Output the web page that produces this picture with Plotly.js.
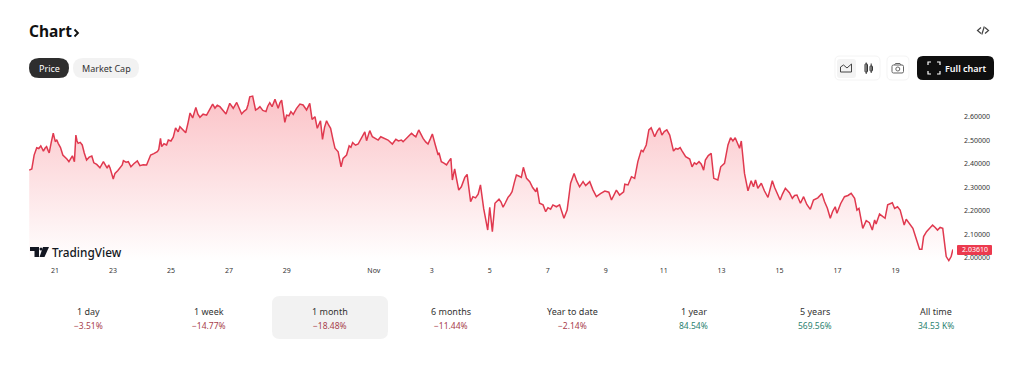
<!DOCTYPE html>
<html>
<head>
<meta charset="utf-8">
<script src="https://cdn.plot.ly/plotly-3.0.1.min.js"></script>
<style>html,body{margin:0;padding:0;background:#fff;overflow:hidden}#chart{width:1024px;height:371px}</style>
</head>
<body>
<div id="chart"></div>
<script>
// Day numbers counted from 1 Oct (32 = 1 Nov)
const days = [
20.11,20.20,20.28,20.33,20.37,20.44,20.51,20.56,20.60,20.66,
20.71,20.76,20.80,20.87,20.94,21.01,21.06,21.11,21.19,21.27,
21.34,21.41,21.48,21.54,21.60,21.67,21.72,21.76,21.80,21.87,
21.94,22.01,22.09,22.18,22.27,22.34,22.44,22.55,22.61,22.67,
22.74,22.80,22.85,22.90,23.01,23.07,23.17,23.28,23.32,23.36,
23.45,23.53,23.62,23.72,23.84,23.93,24.04,24.16,24.23,24.30,
24.41,24.53,24.58,24.64,24.68,24.76,24.85,24.91,25.00,25.08,
25.16,25.25,25.31,25.41,25.51,25.59,25.66,25.75,25.86,25.93,
26.00,26.11,26.23,26.33,26.44,26.52,26.60,26.69,26.80,26.90,
27.03,27.15,27.27,27.35,27.44,27.52,27.61,27.66,27.72,27.82,
27.92,28.00,28.07,28.17,28.28,28.34,28.41,28.49,28.59,28.70,
28.76,28.82,28.93,28.99,29.07,29.14,29.22,29.33,29.45,29.56,
29.68,29.79,29.87,29.97,30.05,30.16,30.23,30.30,30.37,30.44,
30.51,30.59,30.66,30.77,30.87,30.94,31.06,31.15,31.21,31.27,
31.37,31.46,31.57,31.69,31.75,31.86,31.95,32.05,32.15,32.24,
32.36,32.49,32.64,32.70,32.76,32.85,32.95,33.01,33.15,33.30,
33.38,33.45,33.55,33.62,33.70,33.79,33.87,33.95,34.02,34.12,
34.22,34.25,34.33,34.42,34.51,34.58,34.66,34.71,34.79,34.86,
34.93,35.02,35.14,35.22,35.28,35.34,35.42,35.51,35.60,35.68,
35.79,35.86,35.93,36.00,36.09,36.18,36.25,36.32,36.39,36.46,
36.54,36.63,36.70,36.77,36.85,36.92,37.00,37.09,37.16,37.27,
37.38,37.48,37.59,37.63,37.72,37.84,37.93,38.01,38.10,38.18,
38.30,38.41,38.56,38.67,38.73,38.79,38.91,39.00,39.10,39.22,
39.31,39.45,39.56,39.68,39.82,39.97,40.11,40.20,40.37,40.48,
40.62,40.66,40.77,40.89,41.00,41.11,41.23,41.29,41.40,41.49,
41.57,41.69,41.78,41.86,41.94,42.02,42.11,42.21,42.34,42.42,
42.49,42.57,42.64,42.76,42.90,42.98,43.06,43.13,43.22,43.30,
43.38,43.44,43.54,43.64,43.73,43.87,43.97,44.10,44.22,44.31,
44.39,44.47,44.62,44.68,44.79,44.91,45.02,45.10,45.17,45.25,
45.37,45.48,45.60,45.75,45.83,45.91,46.02,46.10,46.20,46.34,
46.44,46.52,46.60,46.72,46.83,46.94,47.06,47.17,47.32,47.46,
47.55,47.65,47.75,47.83,47.92,47.98,48.11,48.24,48.36,48.47,
48.59,48.67,48.74,48.87,48.99,49.10,49.20,49.28,49.33,49.45,
49.55,49.64,49.73,49.89,49.97,50.07,50.16,50.30,50.37,50.48,
50.60,50.72,50.83,50.91,50.97,51.07,51.17,51.28,51.37,51.45,
51.54,51.63,51.75,51.84,51.92,51.98];
const prices = [
2.374,2.379,2.438,2.458,2.469,2.466,2.477,2.465,2.455,2.468,
2.474,2.458,2.447,2.492,2.531,2.495,2.503,2.488,2.470,2.438,
2.431,2.421,2.410,2.424,2.435,2.410,2.523,2.498,2.488,2.492,
2.481,2.447,2.417,2.429,2.434,2.405,2.398,2.384,2.397,2.410,
2.395,2.382,2.396,2.383,2.336,2.360,2.372,2.388,2.396,2.414,
2.408,2.410,2.388,2.401,2.413,2.393,2.397,2.396,2.422,2.438,
2.444,2.452,2.462,2.509,2.474,2.486,2.481,2.502,2.498,2.514,
2.554,2.537,2.559,2.545,2.533,2.575,2.617,2.596,2.641,2.612,
2.599,2.612,2.608,2.630,2.655,2.638,2.650,2.644,2.630,2.613,
2.658,2.637,2.662,2.636,2.613,2.624,2.633,2.652,2.686,2.689,
2.630,2.636,2.644,2.628,2.623,2.646,2.661,2.644,2.675,2.637,
2.660,2.672,2.577,2.608,2.605,2.623,2.611,2.636,2.655,2.651,
2.630,2.658,2.590,2.601,2.552,2.584,2.505,2.556,2.584,2.566,
2.552,2.505,2.467,2.452,2.388,2.424,2.438,2.477,2.471,2.491,
2.480,2.485,2.510,2.537,2.499,2.542,2.516,2.510,2.502,2.516,
2.508,2.502,2.485,2.497,2.505,2.498,2.502,2.495,2.514,2.531,
2.522,2.516,2.545,2.526,2.509,2.494,2.485,2.507,2.528,2.482,
2.438,2.448,2.410,2.404,2.396,2.410,2.424,2.332,2.379,2.333,
2.289,2.303,2.343,2.356,2.298,2.240,2.261,2.256,2.272,2.311,
2.211,2.168,2.119,2.216,2.112,2.233,2.241,2.250,2.238,2.216,
2.235,2.258,2.268,2.282,2.322,2.353,2.349,2.343,2.386,2.339,
2.325,2.300,2.282,2.299,2.233,2.226,2.197,2.214,2.208,2.226,
2.218,2.226,2.169,2.204,2.260,2.318,2.360,2.328,2.303,2.325,
2.308,2.325,2.290,2.261,2.274,2.285,2.280,2.247,2.289,2.268,
2.282,2.314,2.311,2.346,2.339,2.410,2.460,2.452,2.481,2.545,
2.554,2.516,2.540,2.554,2.523,2.538,2.545,2.523,2.455,2.466,
2.463,2.470,2.455,2.431,2.421,2.388,2.405,2.399,2.410,2.399,
2.374,2.417,2.436,2.445,2.339,2.332,2.388,2.403,2.481,2.512,
2.498,2.512,2.467,2.498,2.360,2.286,2.329,2.303,2.332,2.297,
2.318,2.285,2.258,2.329,2.300,2.275,2.247,2.272,2.297,2.278,
2.254,2.266,2.268,2.233,2.261,2.228,2.207,2.247,2.256,2.275,
2.240,2.212,2.169,2.198,2.218,2.190,2.232,2.261,2.266,2.275,
2.254,2.204,2.211,2.126,2.159,2.150,2.119,2.162,2.145,2.187,
2.178,2.169,2.226,2.235,2.211,2.218,2.204,2.140,2.165,2.145,
2.126,2.080,2.037,2.037,2.091,2.112,2.126,2.140,2.130,2.119,
2.130,2.126,2.006,1.989,2.006,2.0361];
const xTickVals = [21,23,25,27,29,32,34,36,38,40,42,44,46,48,50];
const xTickText = ['21','23','25','27','29','Nov','3','5','7','9','11','13','15','17','19'];
const yTickVals = [2.0,2.1,2.2,2.3,2.4,2.5,2.6];
const periods = ['1 day','1 week','1 month','6 months','Year to date','1 year','5 years','All time'];
const changes = ['−3.51%','−14.77%','−18.48%','−11.44%','−2.14%','84.54%','569.56%','34.53 K%'];
const lastPrice = '2.03610';

// Plot frame in page pixels
const W=1024,H=371,L=29,R=953,T=95,B=262;
const px=x=>(x-L)/(R-L), py=y=>(B-y)/(B-T);
const FONT='"Noto Sans", sans-serif';
const RED='#a8404c', GREEN='#2b7f70';

const shapes=[], notes=[];
function poly(points,opt){
  const d=points.map((p,i)=>(i?'L':'M')+px(p[0]).toFixed(5)+','+py(p[1]).toFixed(5)).join(' ')+(opt.close?' Z':'');
  shapes.push({type:'path',xref:'paper',yref:'paper',path:d,fillcolor:opt.fill||'rgba(0,0,0,0)',
    line:{color:opt.line||'rgba(0,0,0,0)',width:opt.width||0},layer:'above'});
}
function rr(x0,y0,x1,y1,r,fill,line){
  const f=(x,y)=>px(x).toFixed(5)+','+py(y).toFixed(5);
  const d='M'+f(x0+r,y0)+' L'+f(x1-r,y0)+' Q'+f(x1,y0)+' '+f(x1,y0+r)+' L'+f(x1,y1-r)+' Q'+f(x1,y1)+' '+f(x1-r,y1)+
    ' L'+f(x0+r,y1)+' Q'+f(x0,y1)+' '+f(x0,y1-r)+' L'+f(x0,y0+r)+' Q'+f(x0,y0)+' '+f(x0+r,y0)+' Z';
  shapes.push({type:'path',xref:'paper',yref:'paper',path:d,fillcolor:fill,line:{color:line||'rgba(0,0,0,0)',width:line?1:0},layer:'above'});
}
function text(x,y,s,size,color,anchor,weight){
  notes.push({xref:'paper',yref:'paper',x:px(x),y:py(y),text:s,showarrow:false,xanchor:anchor||'center',yanchor:'middle',
    font:{family:FONT,size:size,color:color,weight:weight||400},borderpad:0,borderwidth:0});
}

// header
text(29,31,'Chart',15.5,'#111','left',700);
poly([[74.5,29.5],[78,33],[74.5,36.5]],{line:'#111',width:1.8});
rr(29,58,69,78,10,'#2e2e2e'); text(49,68,'Price',9,'#fff');
rr(73,58,139,78,10,'#f2f2f2'); text(106,68,'Market Cap',9,'#333');
poly([[981,27.5],[977.5,30.5],[981,33.5]],{line:'#444',width:1.2});
poly([[985,27.5],[988.5,30.5],[985,33.5]],{line:'#444',width:1.2});
poly([[984.3,26.5],[981.8,34.5]],{line:'#444',width:1.2});

// toolbar
rr(835,56,880,80,5,'#fff','#f4f4f4');
rr(837,59,856,78,3,'#f3f3f3');
poly([[840.5,72],[840.5,67],[843.5,65],[847,68],[851.5,64],[851.5,72],[840.5,72]],{line:'#444',width:1});
rr(865,64,867.5,72,0.5,'#fff','#333');poly([[866.2,62.5],[866.2,74]],{line:'#333',width:1});
rr(870,66,872.5,71,0.5,'#fff','#333');poly([[871.2,63.5],[871.2,73]],{line:'#333',width:1});
rr(887,56,909,80,5,'#fff','#f4f4f4');
rr(892,65,903.5,73,1.5,'#fff','#666');
poly([[894.5,65],[895.5,63.5],[900,63.5],[901,65]],{line:'#666',width:1});
shapes.push({type:'circle',xref:'paper',yref:'paper',x0:px(895.8),x1:px(899.8),y0:py(71),y1:py(67),line:{color:'#666',width:1},layer:'above'});
rr(917,56,994,80,6,'#0f0f0f');
[[[928,65],[928,62],[931,62]],[[937,62],[940,62],[940,65]],[[940,71],[940,74],[937,74]],[[931,74],[928,74],[928,71]]]
  .forEach(c=>poly(c,{line:'#fff',width:1.2}));
text(945,68,'Full chart',9,'#fff','left',600);

// TradingView mark
poly([[30,247],[39,247],[39,257],[34.5,257],[34.5,251],[30,251]],{fill:'#131722',close:true});
poly([[43,247],[49,247],[44.5,257],[39.5,257]],{fill:'#131722',close:true});
shapes.push({type:'circle',xref:'paper',yref:'paper',x0:px(39.5),x1:px(42.5),y0:py(250.5),y1:py(247.5),fillcolor:'#131722',line:{width:0},layer:'above'});
text(52,252,'TradingView',11.8,'#131722','left',500);

// price tag
rr(957,245,992,255,1,'#ec3a4e');
text(974.5,249.6,lastPrice,7,'#fff');

// period strip
rr(272,296,388,339,8,'#f2f2f2');
periods.forEach((p,i)=>{
  const cx=88+i*121.14;
  text(cx,311,p,9,'#333');
  text(cx,325,changes[i],8.5,changes[i][0]==='−'?RED:GREEN);
});

Plotly.newPlot('chart',[{
  type:'scatter',mode:'lines',x:days,y:prices,
  line:{color:'#e0394f',width:1.5,shape:'linear'},
  fill:'tozeroy',
  fillgradient:{type:'vertical',start:1.985,stop:2.69,
    colorscale:[[0,'rgba(242,54,69,0)'],[1,'rgba(242,54,69,0.3)']]},
  cliponaxis:false,hoverinfo:'skip'
}],{
  width:W,height:H,paper_bgcolor:'#fff',plot_bgcolor:'#fff',showlegend:false,
  margin:{l:L,r:W-R,t:T,b:H-B,pad:0},
  font:{family:FONT},
  xaxis:{range:[20.103,51.984],tickmode:'array',tickvals:xTickVals,ticktext:xTickText,showgrid:false,zeroline:false,showline:false,
    ticks:'',tickfont:{size:7,color:'#333',family:FONT},ticklabelstandoff:3,fixedrange:true,automargin:false},
  yaxis:{range:[1.983,2.6936],side:'right',tickmode:'array',tickvals:yTickVals,tickformat:'.5f',showgrid:false,zeroline:false,showline:false,
    ticks:'',tickfont:{size:7,color:'#333',family:FONT},ticklabelstandoff:10,fixedrange:true,automargin:false},
  shapes:shapes,annotations:notes
},{displayModeBar:false,staticPlot:true});
</script>
</body>
</html>
